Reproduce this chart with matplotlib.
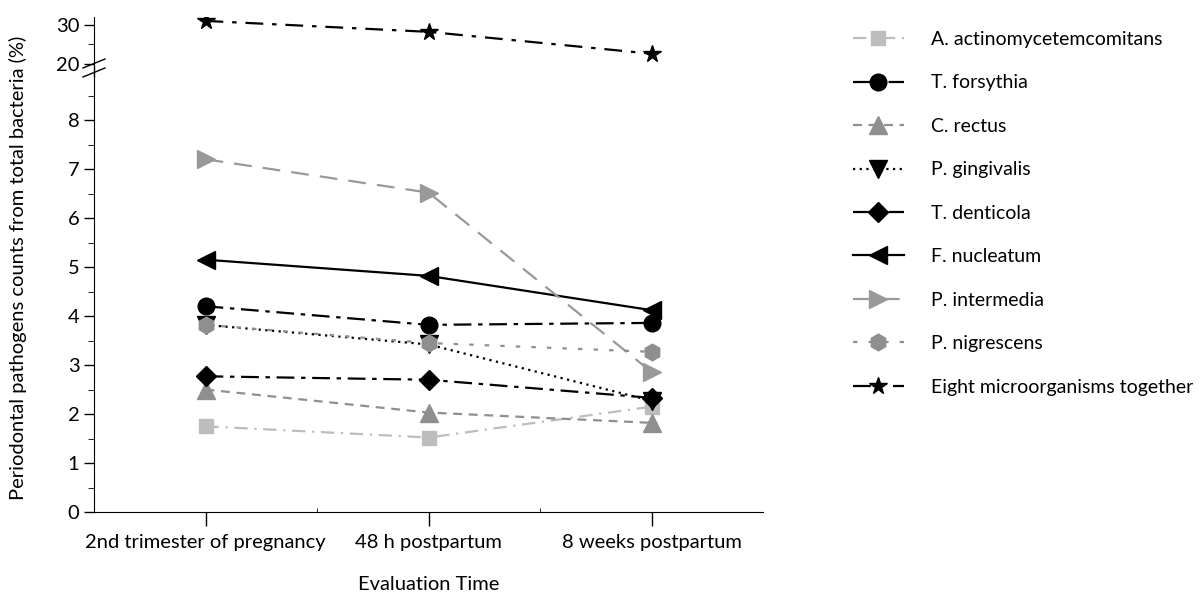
import matplotlib
matplotlib.use("Agg")
import matplotlib.pyplot as plt
from matplotlib.lines import Line2D
from matplotlib.ticker import MultipleLocator, FixedLocator

plt.rcParams['font.family'] = ['Lato', 'DejaVu Sans']

# data
times = ['2nd trimester of pregnancy', '48 h postpartum', '8 weeks postpartum']
names = ['A. actinomycetemcomitans', 'T. forsythia', 'C. rectus', 'P. gingivalis',
         'T. denticola', 'F. nucleatum', 'P. intermedia', 'P. nigrescens',
         'Eight microorganisms together']
a_actino = [1.75, 1.52, 2.15]
t_forsythia = [4.2, 3.82, 3.86]
c_rectus = [2.5, 2.03, 1.82]
p_gingivalis = [3.82, 3.42, 2.27]
t_denticola = [2.77, 2.7, 2.33]
f_nucleatum = [5.15, 4.82, 4.12]
p_intermedia = [7.2, 6.52, 2.86]
p_nigrescens = [3.82, 3.45, 3.27]
eight_total = [31.0, 28.2, 22.6]

series = [a_actino, t_forsythia, c_rectus, p_gingivalis, t_denticola,
          f_nucleatum, p_intermedia, p_nigrescens, eight_total]
colors = ['#bdbdbd', 'black', '#8f8f8f', 'black', 'black', 'black',
          '#999999', '#8f8f8f', 'black']
markers = ['s', 'o', '^', 'v', 'D', '<', '>', 'h', '*']
msizes = [10, 12, 13, 13, 10, 13, 13, 12, 13]
styles = [(0, (6, 3, 1, 3)), (0, (8, 3, 2, 3)), (0, (4, 3)), (0, (1, 2)),
          (0, (8, 3, 2, 3)), '-', (0, (8, 5)), (0, (2, 5)), (0, (8, 4, 2, 4))]

fig = plt.figure(figsize=(12.03, 5.96), dpi=100)
W, H = 1203, 596
left, right = 94 / W, 763 / W
ax = fig.add_axes([left, 1 - 512 / H, right - left, (512 - 76) / H])
ax_top = fig.add_axes([left, 1 - 67 / H, right - left, (67 - 17) / H])

x = [0, 1, 2]
handles = []
for vals, c, m, ms, ls, name in zip(series, colors, markers, msizes, styles, names):
    target = ax_top if vals is eight_total else ax
    line, = target.plot(x, vals, color=c, marker=m, markersize=ms, linestyle=ls,
                        linewidth=1.6, markeredgecolor=c, label=name)
    handles.append(line)

ax.set_ylim(0, 8.9)
ax.set_xlim(-0.5, 2.5)
ax.yaxis.set_major_locator(MultipleLocator(1))
ax.yaxis.set_minor_locator(MultipleLocator(0.5))
ax.set_xticks(x)
ax.set_xticklabels(times)
ax.xaxis.set_minor_locator(FixedLocator([0.5, 1.5]))
ax.tick_params(axis='x', which='major', length=10, width=1, pad=6, labelsize=14.5)
ax.tick_params(axis='x', which='minor', direction='in', length=3)
ax.tick_params(axis='y', which='major', length=7, width=1, labelsize=14.5)
ax.tick_params(axis='y', which='minor', length=4)
for s in ['top', 'right']:
    ax.spines[s].set_visible(False)
ax.set_xlabel('Evaluation Time', fontsize=14.5, labelpad=18)

ax_top.set_ylim(19.2, 32)
ax_top.set_xlim(-0.5, 2.5)
ax_top.set_yticks([20, 30])
ax_top.yaxis.set_minor_locator(FixedLocator([25]))
ax_top.tick_params(axis='y', which='major', length=7, width=1, labelsize=14.5)
ax_top.tick_params(axis='y', which='minor', length=4)
ax_top.set_xticks([])
for s in ['top', 'right', 'bottom']:
    ax_top.spines[s].set_visible(False)
ax_top.patch.set_alpha(0)

# spine joining the two parts and the break marks
fig.add_artist(Line2D([left, left], [1 - 76 / H, 1 - 67 / H], color='black', linewidth=1,
                      transform=fig.transFigure))
for dy in (0, 9):
    fig.add_artist(Line2D([83 / W, 105 / W], [1 - (77 - dy) / H, 1 - (68 - dy) / H],
                          color='black', linewidth=1, transform=fig.transFigure))

fig.text(18 / W, 0.55, 'Periodontal pathogens counts from total bacteria (%)',
         rotation=90, ha='center', va='center', fontsize=14.5)

fig.legend(handles=handles, loc='upper left', bbox_to_anchor=(853 / W, 1 - 31 / H),
           frameon=False, fontsize=14, labelspacing=1.36, handlelength=2.6,
           handletextpad=1.4, borderaxespad=0, borderpad=0)

fig.savefig('out.png', dpi=100)
